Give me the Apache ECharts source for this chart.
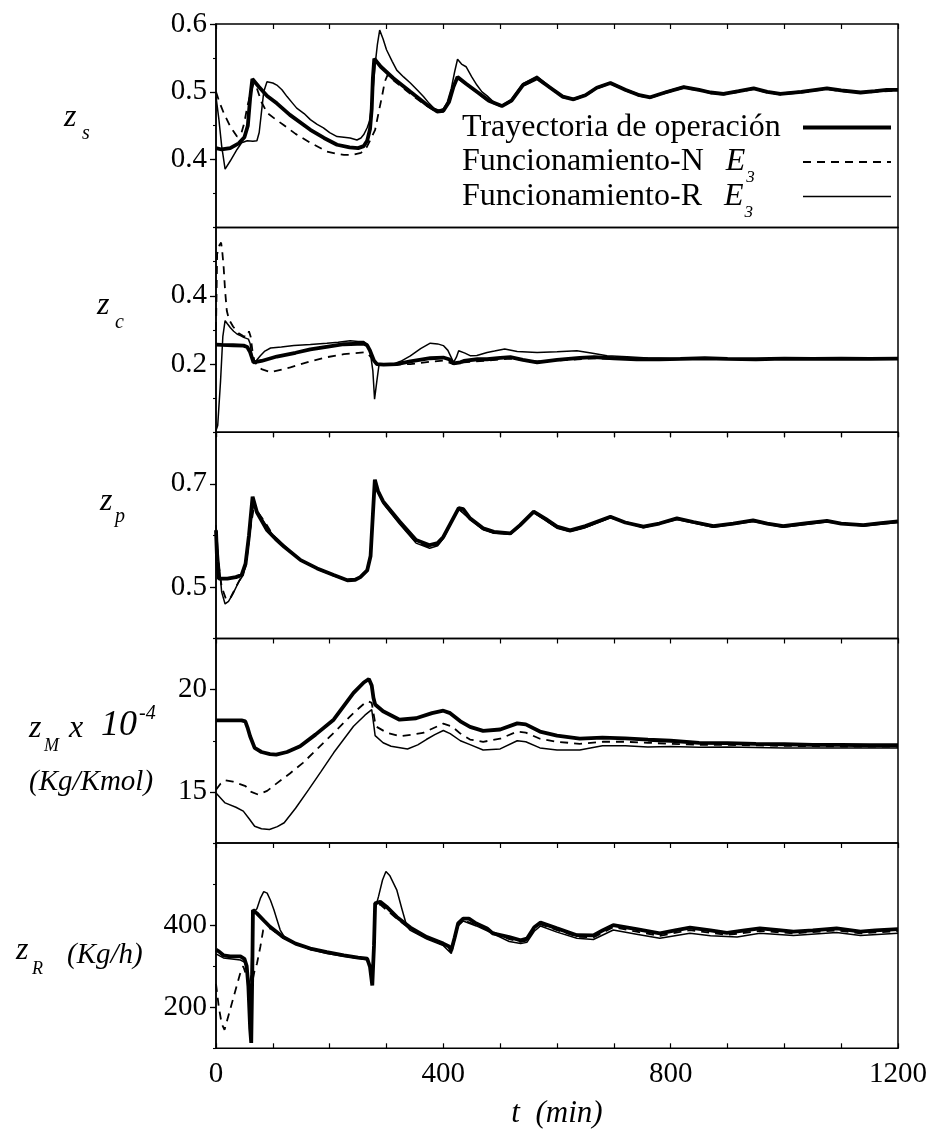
<!DOCTYPE html>
<html>
<head>
<meta charset="utf-8">
<script src="https://cdn.jsdelivr.net/npm/echarts@6/dist/echarts.min.js"></script>
<style>
  html, body { margin: 0; padding: 0; background: #fff; }
  #chart { width: 937px; height: 1136px; }
</style>
</head>
<body>
<div id="chart"></div>
<script>
// ---- time axis (min) ----
const tTicks = [0, 400, 800, 1200];

// ---- z_s : [t, value] ----
const zsTray = [[0,0.417],[10,0.415],[25,0.417],[40,0.424],[50,0.433],[56,0.45],[60,0.49],[64,0.519],[75,0.508],[90,0.494],[107,0.483],[130,0.466],[166,0.444],[190,0.432],[213,0.422],[235,0.418],[250,0.417],[260,0.42],[266,0.428],[271,0.445],[274,0.475],[276,0.52],[278.5,0.549],[290,0.537],[312,0.52],[342,0.5],[371,0.481],[389,0.471],[400,0.472],[410,0.485],[418,0.508],[425,0.522],[440,0.512],[459,0.5],[480,0.487],[503,0.479],[520,0.487],[540,0.51],[565,0.52],[590,0.505],[610,0.493],[629,0.489],[650,0.495],[670,0.506],[694,0.513],[720,0.503],[745,0.495],[764,0.492],[790,0.499],[823,0.507],[850,0.503],[870,0.499],[893,0.497],[920,0.501],[946,0.505],[970,0.5],[993,0.497],[1030,0.5],[1075,0.505],[1100,0.502],[1134,0.499],[1160,0.501],[1180,0.503],[1200,0.503]];
const zsN = [[0,0.5],[6,0.485],[13.5,0.469],[25,0.449],[37,0.434],[45,0.44],[50,0.455],[55,0.478],[61,0.498],[66,0.512],[72,0.505],[80,0.485],[90,0.469],[104,0.46],[119,0.451],[140,0.438],[166,0.425],[195,0.412],[210,0.409],[225,0.407],[240,0.407],[255,0.41],[265,0.418],[271,0.428],[276,0.437],[280,0.444],[286,0.469],[292,0.493],[297,0.515],[302,0.525],[312,0.517],[342,0.497],[371,0.479],[389,0.47],[400,0.471],[410,0.485],[418,0.506],[425,0.52],[440,0.511],[459,0.499],[480,0.486],[503,0.478],[520,0.486],[540,0.509],[565,0.519],[590,0.504],[610,0.492],[629,0.488],[650,0.494],[670,0.505],[694,0.512],[720,0.502],[745,0.494],[764,0.491],[790,0.498],[823,0.506],[850,0.502],[870,0.498],[893,0.496],[920,0.5],[946,0.504],[970,0.499],[993,0.496],[1030,0.499],[1075,0.504],[1100,0.501],[1134,0.498],[1160,0.5],[1200,0.502]];
const zsR = [[0,0.493],[5,0.46],[10,0.42],[16,0.386],[25,0.398],[37,0.415],[45,0.425],[55,0.428],[65,0.427],[72,0.428],[76,0.44],[80,0.47],[84,0.5],[89.7,0.515],[100,0.513],[107,0.51],[116,0.503],[125,0.493],[135,0.483],[142,0.476],[155,0.468],[166,0.459],[178,0.452],[189,0.447],[200,0.44],[213,0.434],[225,0.433],[236,0.432],[248,0.429],[255,0.432],[260,0.437],[266,0.447],[271,0.459],[276,0.5],[280,0.54],[284,0.57],[288,0.591],[294,0.578],[300,0.562],[310,0.545],[318,0.532],[330,0.522],[342,0.513],[355,0.502],[365,0.493],[375,0.483],[383,0.476],[392,0.473],[400,0.475],[407,0.485],[414,0.505],[420,0.53],[425,0.548],[432,0.541],[440,0.537],[450,0.522],[459,0.51],[468,0.5],[477,0.494],[490,0.484],[503,0.48],[520,0.489],[540,0.512],[565,0.523],[590,0.506],[610,0.494],[629,0.49],[650,0.496],[670,0.507],[694,0.514],[720,0.504],[745,0.496],[764,0.492],[790,0.5],[823,0.508],[850,0.503],[870,0.5],[893,0.497],[920,0.502],[946,0.505],[970,0.5],[993,0.498],[1030,0.501],[1075,0.505],[1100,0.502],[1134,0.499],[1160,0.502],[1200,0.503]];

// ---- z_c ----
const zcTray = [[0,0.257],[10,0.256],[30,0.255],[48.6,0.254],[55,0.25],[60,0.235],[66,0.205],[80,0.209],[107,0.222],[140,0.233],[166,0.243],[200,0.252],[225,0.258],[260,0.26],[266,0.255],[271,0.239],[278,0.21],[283,0.2],[295,0.198],[318,0.2],[342,0.208],[377,0.217],[400,0.219],[410,0.214],[418,0.202],[430,0.205],[436,0.209],[460,0.214],[477,0.214],[500,0.218],[518,0.22],[540,0.212],[565,0.205],[600,0.212],[640,0.218],[665,0.22],[700,0.217],[740,0.214],[780,0.214],[817,0.215],[860,0.217],[900,0.215],[950,0.214],[1000,0.216],[1050,0.215],[1100,0.216],[1150,0.215],[1200,0.216]];
const zcN = [[0,0.3],[2,0.522],[6,0.548],[9,0.556],[11,0.53],[13.5,0.483],[16,0.415],[19,0.356],[23,0.33],[30,0.31],[40,0.29],[48,0.282],[55,0.28],[58,0.296],[61,0.28],[64,0.24],[68,0.205],[80,0.185],[96,0.176],[131,0.19],[166,0.208],[195,0.22],[225,0.229],[260,0.234],[268,0.229],[275,0.215],[285,0.2],[300,0.197],[342,0.2],[380,0.207],[400,0.21],[418,0.2],[436,0.205],[477,0.21],[518,0.216],[565,0.208],[600,0.21],[665,0.217],[700,0.215],[780,0.213],[860,0.216],[950,0.214],[1050,0.215],[1200,0.215]];
const zcR = [[0,0.005],[3,0.02],[8,0.15],[12,0.28],[16,0.327],[20,0.318],[25,0.307],[31,0.296],[37,0.288],[43,0.283],[48.6,0.278],[57,0.273],[60,0.26],[65,0.205],[70,0.208],[78,0.224],[86,0.238],[96,0.247],[115,0.25],[137,0.254],[166,0.257],[195,0.261],[215,0.264],[236,0.268],[250,0.266],[260,0.266],[266,0.258],[271,0.239],[276,0.18],[279,0.097],[283,0.15],[287,0.2],[300,0.198],[312,0.2],[325,0.208],[342,0.224],[360,0.245],[377,0.261],[390,0.259],[400,0.254],[408,0.24],[418,0.205],[423,0.22],[427,0.239],[438,0.232],[448,0.224],[459,0.225],[477,0.234],[490,0.238],[508,0.244],[530,0.237],[565,0.234],[600,0.236],[635,0.239],[660,0.232],[688,0.224],[723,0.221],[760,0.218],[800,0.216],[850,0.218],[900,0.216],[950,0.215],[1000,0.217],[1050,0.216],[1100,0.217],[1150,0.216],[1200,0.217]];

// ---- z_p ----
const zpTray = [[0,0.61],[2,0.55],[5,0.516],[20,0.516],[35,0.519],[45,0.523],[52,0.545],[58,0.6],[64.4,0.675],[72,0.645],[90,0.61],[105,0.593],[120,0.578],[149,0.552],[178,0.536],[207,0.523],[231,0.513],[245,0.514],[254,0.519],[266,0.532],[272,0.56],[276,0.64],[279.5,0.708],[285,0.686],[294,0.666],[323,0.627],[352,0.591],[376,0.581],[390,0.585],[400,0.597],[412,0.622],[427,0.653],[435,0.651],[447,0.633],[470,0.614],[489,0.607],[518,0.604],[535,0.62],[559,0.646],[580,0.632],[600,0.617],[623,0.61],[650,0.618],[694,0.636],[720,0.625],[752,0.617],[780,0.623],[811,0.633],[840,0.626],[875,0.618],[910,0.623],[945,0.629],[970,0.623],[998,0.618],[1040,0.624],[1075,0.628],[1100,0.623],[1139,0.62],[1170,0.624],[1200,0.627]];
const zpN = [[0,0.6],[5,0.54],[10,0.5],[18,0.475],[26,0.48],[35,0.5],[45,0.52],[52,0.54],[60,0.61],[66,0.65],[75,0.643],[85,0.628],[100,0.601],[120,0.58],[149,0.552],[178,0.535],[207,0.522],[231,0.513],[254,0.518],[266,0.531],[272,0.56],[276,0.64],[279.5,0.705],[294,0.664],[323,0.624],[352,0.587],[376,0.577],[390,0.582],[400,0.595],[412,0.621],[427,0.652],[447,0.632],[470,0.612],[489,0.605],[518,0.603],[535,0.619],[559,0.645],[600,0.615],[623,0.608],[650,0.616],[694,0.635],[752,0.616],[811,0.632],[875,0.617],[945,0.628],[998,0.617],[1075,0.627],[1139,0.619],[1200,0.626]];
const zpR = [[0,0.62],[5,0.55],[10,0.49],[16,0.467],[22,0.472],[30,0.487],[40,0.51],[48,0.523],[55,0.56],[62,0.63],[66,0.66],[72,0.648],[85,0.625],[100,0.6],[120,0.579],[149,0.551],[178,0.535],[207,0.522],[231,0.513],[254,0.518],[266,0.531],[272,0.56],[276,0.64],[279.5,0.704],[294,0.662],[323,0.622],[352,0.585],[376,0.575],[390,0.58],[400,0.594],[412,0.62],[427,0.651],[447,0.631],[470,0.611],[489,0.604],[518,0.602],[535,0.618],[559,0.644],[600,0.614],[623,0.607],[650,0.615],[694,0.634],[752,0.615],[811,0.631],[875,0.616],[945,0.627],[998,0.616],[1075,0.626],[1139,0.618],[1200,0.625]];

// ---- z_M x 10^-4 (Kg/Kmol) ----
const zmTray = [[0,18.5],[20,18.5],[45,18.5],[51.5,18.45],[56,18.1],[60,17.72],[68,17.15],[80,16.95],[95,16.85],[106,16.82],[125,16.95],[148,17.23],[175,17.8],[207,18.53],[242,19.84],[260,20.35],[269,20.52],[274,20.2],[277,19.6],[280,19.27],[294,18.94],[323,18.53],[352,18.6],[380,18.85],[400,18.97],[412,18.85],[430,18.45],[447,18.18],[470,17.98],[500,18.05],[530,18.35],[545,18.3],[570,17.95],[600,17.75],[640,17.6],[680,17.65],[720,17.62],[760,17.55],[800,17.5],[850,17.4],[900,17.38],[950,17.35],[1000,17.33],[1050,17.3],[1100,17.3],[1150,17.28],[1200,17.28]];
const zmN = [[0,15.1],[8,15.4],[16,15.57],[30,15.5],[52,15.28],[62,15.0],[74,14.87],[90,15.05],[108,15.44],[130,15.9],[153,16.42],[180,17.15],[207,17.88],[242,18.86],[260,19.3],[268,19.43],[274,19.35],[278,18.7],[281,18.21],[300,17.9],[323,17.72],[345,17.8],[364,17.88],[385,18.15],[400,18.34],[415,18.2],[430,17.85],[447,17.56],[470,17.45],[500,17.6],[530,17.95],[545,17.9],[570,17.6],[600,17.45],[640,17.35],[680,17.45],[720,17.45],[760,17.4],[800,17.35],[850,17.3],[900,17.3],[1000,17.25],[1100,17.22],[1200,17.22]];
const zmR = [[0,14.95],[16,14.46],[35,14.25],[48,14.06],[58,13.7],[68,13.32],[80,13.2],[94,13.16],[108,13.3],[120,13.49],[140,14.2],[163,15.11],[185,16.0],[207,16.91],[242,18.21],[262,18.75],[274,19.02],[277,18.4],[280,17.75],[294,17.4],[308,17.23],[337,17.1],[355,17.3],[370,17.56],[385,17.8],[400,18.0],[412,17.85],[430,17.5],[447,17.31],[470,17.05],[500,17.1],[530,17.5],[545,17.45],[570,17.15],[600,17.05],[640,17.05],[680,17.25],[720,17.25],[760,17.2],[800,17.22],[850,17.18],[900,17.2],[1000,17.15],[1100,17.15],[1200,17.15]];

// ---- z_R (Kg/h) ----
const zrTray = [[0,340],[5,336],[13,326.5],[25,324],[43,324],[50,318],[54,300],[57,250],[60,150],[62,113],[64,300],[65,436.7],[72,428.6],[85,410],[95,396],[118,371],[140,355],[166,343],[195,334],[225,326.5],[250,321],[266,318.4],[271,298],[275,253],[278,350],[280,453],[289,457],[300,445],[318,420],[342,394],[371,371],[400,355],[410,348],[414,339],[420,370],[426,404],[435,416],[445,416],[458,404],[477,392],[487,380],[516,371],[536,363],[547,367],[560,395],[571,406],[600,392],[635,375.5],[664,375],[680,387],[699,400],[740,390],[781,380],[810,388],[834,394],[870,387],[899,381],[930,387],[957,392],[990,388],[1016,384],[1050,387],[1092,392],[1115,388],[1134,384],[1160,387],[1200,390]];
const zrN = [[0,257],[5,200],[10,160],[15,145],[20,170],[28,210],[35,245],[42,280],[48,300],[55,270],[60,255],[64,262],[68,290],[72,306],[78,347],[83,388],[87,390],[96,392],[118,369],[166,341],[225,325],[266,316],[271,296],[275,258],[280,445],[289,450],[318,416],[342,390],[371,368],[400,352],[414,335],[426,400],[435,412],[458,400],[477,389],[516,366],[536,359],[547,362],[560,390],[571,402],[600,388],[635,372],[664,370],[699,395],[740,384],[781,374],[834,388],[899,376],[957,386],[1016,380],[1092,387],[1134,380],[1200,385]];
const zrR = [[0,330],[13,320],[43,315],[50,310],[55,290],[58,250],[62,280],[65,430],[72,440],[78,465],[84,481.6],[90,478],[96,460],[102,436.7],[108,410],[113,388],[120,372],[140,354],[166,341],[195,331],[225,324],[266,316],[271,296],[275,260],[280,440],[286,470],[293,510],[299,530.6],[306,520],[318,486],[327,440],[336,396],[342,387],[371,366],[400,350],[414,331],[420,365],[426,398],[435,410],[458,398],[477,386],[516,360],[536,355],[547,358],[560,385],[571,398],[600,383],[635,368],[664,365],[699,388],[740,378],[781,368],[834,380],[870,374],[917,371],[957,380],[1016,375],[1092,382],[1134,375],[1200,380]];

// ---- y scales and labelled ticks per panel ----
const yMin   = [0.3, 0.0, 0.4, 12.5, 100];
const yMax   = [0.6, 0.6, 0.8, 22.5, 600];
const yStep  = [0.05, 0.1, 0.1, 2.5, 100];
const yLabels = [[0.4, 0.5, 0.6], [0.2, 0.4], [0.5, 0.7], [15, 20], [200, 400]];
const yDigits = [1, 1, 1, 0, 0];

const seriesNames = ['Trayectoria de operación', 'Funcionamiento-N', 'Funcionamiento-R'];
const panelData = [
  [zsTray, zsN, zsR],
  [zcTray, zcN, zcR],
  [zpTray, zpN, zpR],
  [zmTray, zmN, zmR],
  [zrTray, zrN, zrR]
];

const FONT = '"Liberation Serif", "Times New Roman", serif';
const panelTop = [24, 227.5, 432.3, 638.5, 843, 1048.3];
const INK = '#000';

const grids = [], xAxes = [], yAxes = [], series = [];
for (let i = 0; i < 5; i++) {
  grids.push({
    left: 216, width: 682, top: panelTop[i], height: panelTop[i + 1] - panelTop[i],
    show: true, borderColor: INK, borderWidth: 1.5, backgroundColor: 'transparent'
  });
  // upper edge of each panel: inward ticks every 100 min
  xAxes.push({
    gridIndex: i, type: 'value', min: 0, max: 1200, interval: 100, position: 'top',
    axisLine: { show: false },
    axisTick: { show: true, inside: true, length: 5, lineStyle: { color: INK, width: 1.2 } },
    axisLabel: { show: false }, splitLine: { show: false }
  });
  const d = yDigits[i];
  // labelled ticks
  yAxes.push({
    gridIndex: i, type: 'value', min: yMin[i], max: yMax[i], position: 'left',
    axisLine: { show: true, lineStyle: { color: INK, width: 1.5 } },
    axisTick: { show: true, customValues: yLabels[i], length: 6, lineStyle: { color: INK, width: 1.3 } },
    axisLabel: {
      customValues: yLabels[i], margin: 9, color: INK, fontFamily: FONT, fontSize: 29,
      formatter: v => Number(v).toFixed(d)
    },
    splitLine: { show: false }
  });
}
// short ticks between labels
for (let i = 0; i < 5; i++) {
  yAxes.push({
    gridIndex: i, type: 'value', min: yMin[i], max: yMax[i], interval: yStep[i], position: 'left', offset: 0,
    axisLine: { show: false },
    axisTick: { show: true, length: 3, lineStyle: { color: INK, width: 1.1 } },
    axisLabel: { show: false }, splitLine: { show: false }
  });
}
// bottom time axis with labels
xAxes.push({
  gridIndex: 4, type: 'value', min: 0, max: 1200, interval: 100, position: 'bottom',
  axisLine: { show: false },
  axisTick: { show: true, inside: true, length: 5, lineStyle: { color: INK, width: 1.2 } },
  axisLabel: {
    margin: 12, color: INK, fontFamily: FONT, fontSize: 29,
    formatter: v => (tTicks.indexOf(v) >= 0 ? String(v) : '')
  },
  splitLine: { show: false },
  name: 't  (min)', nameLocation: 'middle', nameGap: 50,
  nameTextStyle: { fontFamily: FONT, fontSize: 31, fontStyle: 'italic', color: INK }
});

const lineStyles = [
  { color: INK, width: 3.8, type: 'solid' },
  { color: INK, width: 1.8, type: [8, 6] },
  { color: INK, width: 1.5, type: 'solid' }
];
const drawOrder = [2, 1, 0];
for (let i = 0; i < 5; i++) {
  drawOrder.forEach(k => {
    series.push({
      type: 'line', name: seriesNames[k], xAxisIndex: i, yAxisIndex: i,
      data: panelData[i][k], symbol: 'none', showSymbol: false, smooth: false,
      lineStyle: lineStyles[k], z: 2 + (2 - k), silent: true
    });
  });
}

// axis titles drawn as text
const italic = (size) => 'italic ' + size + 'px ' + FONT;
function txt(x, y, text, font) {
  return {
    type: 'text', x: x, y: y, silent: true,
    style: { text: text, font: font, fill: INK, textAlign: 'left', textVerticalAlign: 'middle', align: 'left', verticalAlign: 'middle' }
  };
}
const graphics = [
  txt(64, 118, 'z', italic(32)), txt(82, 134, 's', italic(20)),
  txt(97, 306, 'z', italic(32)), txt(115, 323, 'c', italic(20)),
  txt(100, 502, 'z', italic(32)), txt(115, 517, 'p', italic(20)),
  txt(29, 729, 'z', italic(32)), txt(44, 746, 'M', italic(18)),
  txt(69, 729, 'x', italic(32)), txt(101, 726, '10', italic(36)),
  txt(139, 714, '-4', italic(20)),
  txt(29, 782, '(Kg/Kmol)', italic(29)),
  txt(16, 951, 'z', italic(32)), txt(32, 969, 'R', italic(18)),
  txt(67, 955, '(Kg/h)', italic(29))
];

const option = {
  animation: false,
  backgroundColor: '#fff',
  grid: grids,
  xAxis: xAxes,
  yAxis: yAxes,
  series: series,
  graphic: graphics,
  legend: {
    orient: 'vertical', left: 457, top: 98, align: 'right', itemGap: -14.5,
    itemWidth: 88, itemHeight: 14, selectedMode: false,
    data: seriesNames,
    itemStyle: { opacity: 0 },
    lineStyle: { width: 'inherit', type: 'inherit' },
    textStyle: {
      width: 336, color: INK, fontFamily: FONT, fontSize: 32, lineHeight: 36,
      rich: {
        t: { fontFamily: FONT, fontSize: 32, lineHeight: 36, color: INK, align: 'left' },
        e: { fontFamily: FONT, fontSize: 32, lineHeight: 36, fontStyle: 'italic', color: INK, padding: [0, 0, 0, 22], align: 'left' },
        s: { fontFamily: FONT, fontSize: 17, lineHeight: 36, fontStyle: 'italic', color: INK, padding: [32, 0, 0, 1], align: 'left' }
      }
    },
    formatter: name => name === seriesNames[0] ? '{t|' + name + '}{s| }' : '{t|' + name + '}{e|E}{s|3}'
  }
};

const chart = echarts.init(document.getElementById('chart'), null, { renderer: 'canvas' });
chart.setOption(option);
</script>
</body>
</html>
